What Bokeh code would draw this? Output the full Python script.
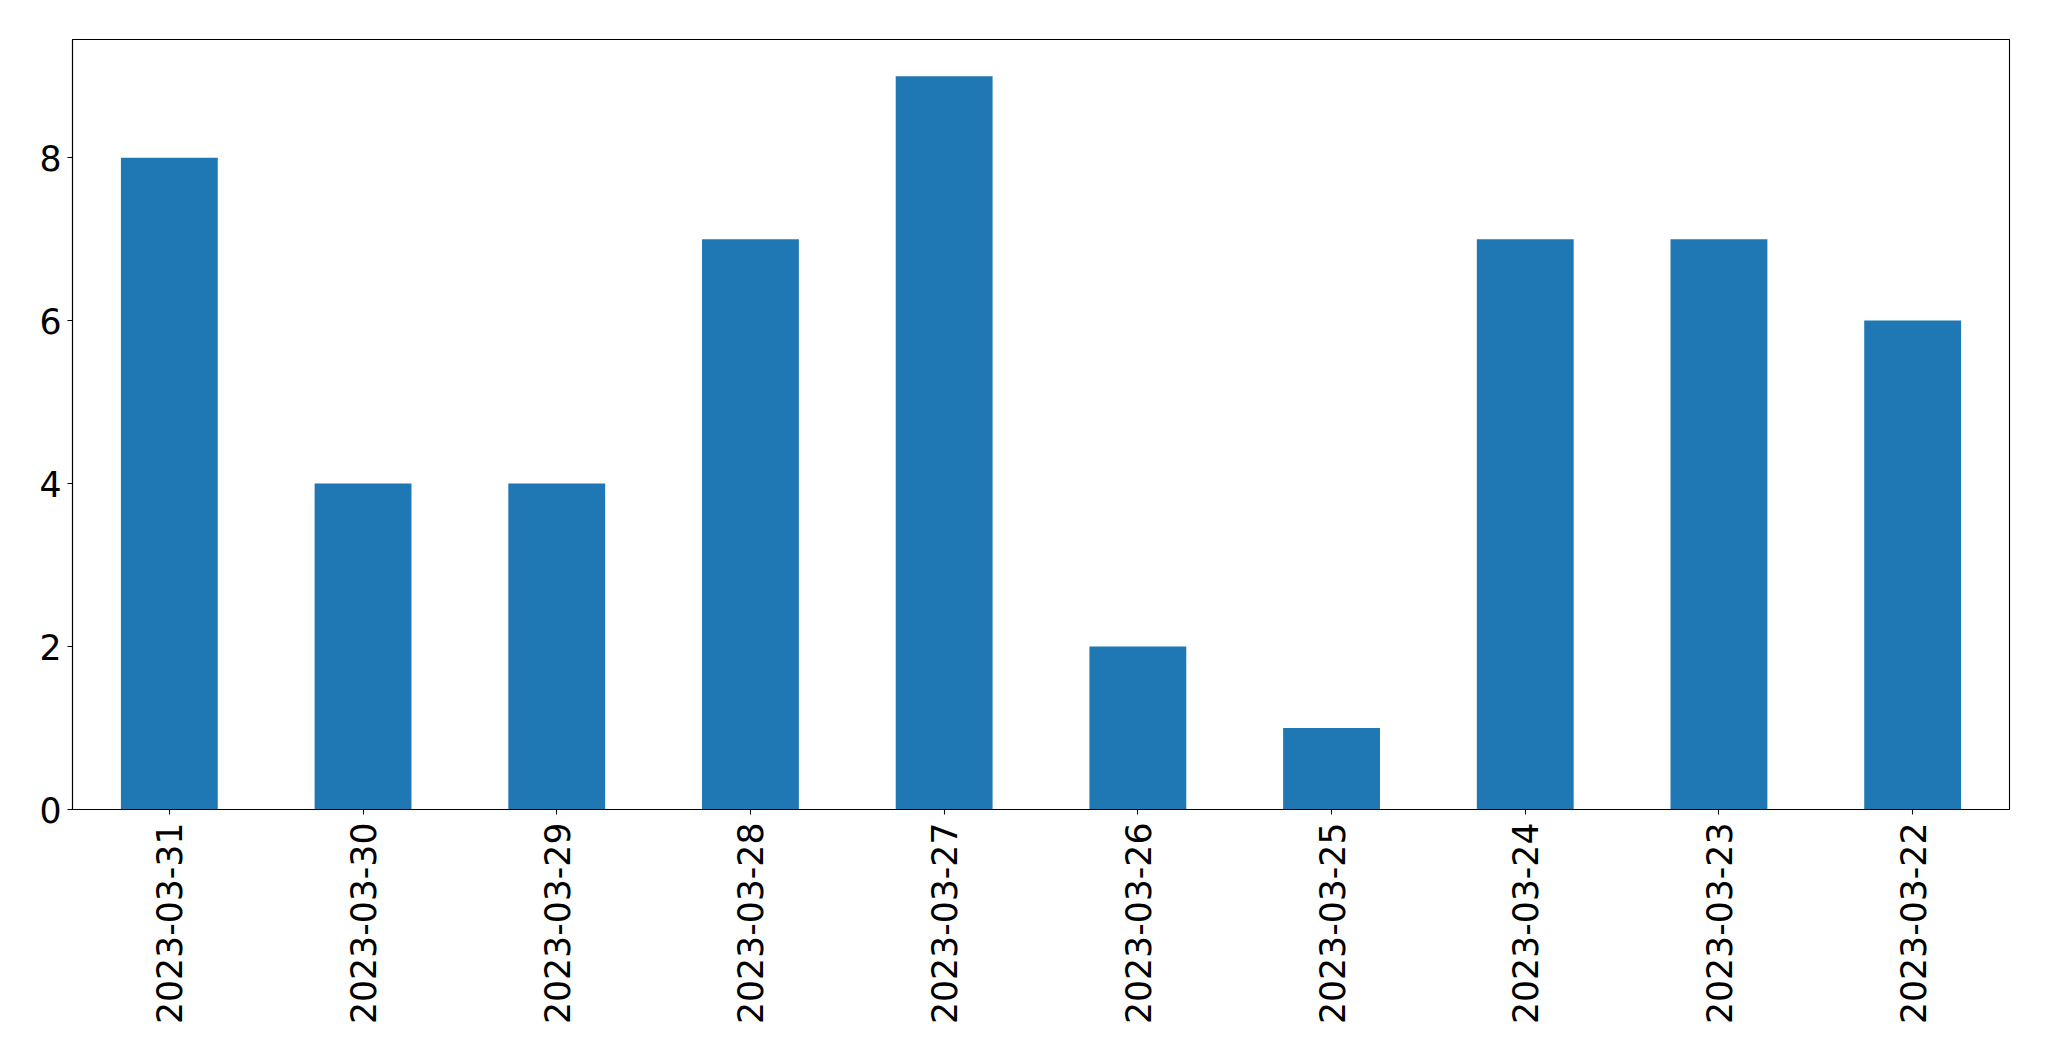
import math
from bokeh.plotting import figure
from bokeh.models import FactorRange, Range1d, FixedTicker, ColumnDataSource
from bokeh.embed import file_html
from bokeh.resources import INLINE

dates = ["2023-03-31", "2023-03-30", "2023-03-29", "2023-03-28", "2023-03-27",
         "2023-03-26", "2023-03-25", "2023-03-24", "2023-03-23", "2023-03-22"]
counts = [8, 4, 4, 7, 9, 2, 1, 7, 7, 6]
y_ticks = [0, 2, 4, 6, 8]

src = ColumnDataSource(dict(x=dates, top=counts))

p = figure(x_range=FactorRange(factors=dates, range_padding=0),
           y_range=Range1d(0, 9.45),
           frame_width=1937, frame_height=770,
           min_border_left=72, min_border_top=39, min_border_right=30,
           min_border_bottom=230,
           output_backend="svg", toolbar_location=None,
           background_fill_color="white", border_fill_color="white")

p.vbar(x="x", top="top", width=0.5, bottom=0, source=src,
       fill_color="#1f77b4", line_color=None)

p.xgrid.visible = False
p.ygrid.visible = False
p.outline_line_color = "black"
p.outline_line_width = 1.1

FONT = "DejaVu Sans"
SIZE = "34.7px"
for ax in (p.xaxis[0], p.yaxis[0]):
    ax.major_label_text_font = FONT
    ax.major_label_text_font_size = SIZE
    ax.major_label_text_color = "black"
    ax.major_tick_out = 5
    ax.major_tick_in = 0
    ax.major_tick_line_color = "black"
    ax.major_tick_line_width = 1.1
    ax.minor_tick_line_color = None
    ax.axis_line_color = "black"
    ax.axis_line_width = 1.1

p.yaxis[0].ticker = FixedTicker(ticks=y_ticks)
p.yaxis[0].major_label_standoff = 6
p.xaxis[0].major_label_orientation = math.pi / 2
p.xaxis[0].major_label_standoff = 8

open("out.html", "w").write(file_html(p, INLINE))
